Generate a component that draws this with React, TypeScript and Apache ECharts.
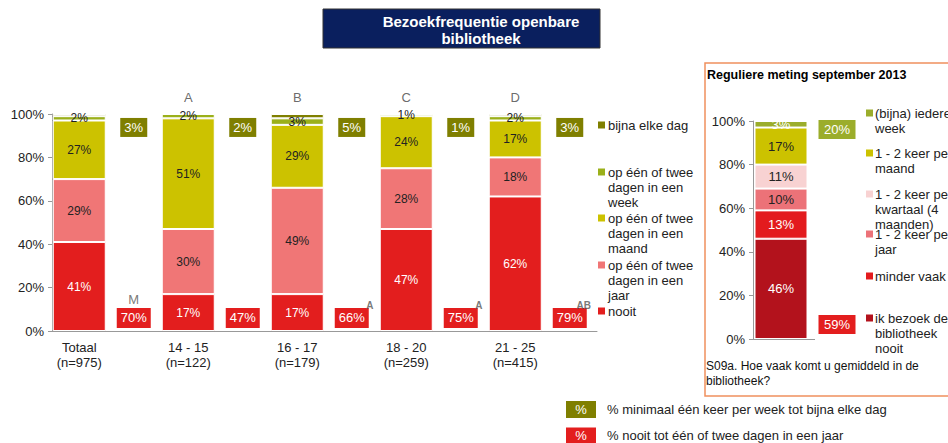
import React, { useEffect, useRef } from "react";
import * as echarts from "echarts";

// ---------- data ----------
const groups = ["Totaal\n(n=975)", "14 - 15\n(n=122)", "16 - 17\n(n=179)", "18 - 20\n(n=259)", "21 - 25\n(n=415)"];
const nooit = [41, 17, 17, 47, 62];
const jaar = [29, 30, 49, 28, 18];
const maand = [27, 51, 29, 24, 17];
const week = [2, 2, 3, 1, 2];
const dagelijks = [1, 0, 2, 0, 1];
const weeklyTotal = [3, 2, 5, 1, 3];
const neverTotal = [70, 47, 66, 75, 79];
const groupLetters = ["", "A", "B", "C", "D"];
const sigLetters = ["M", "", "A", "A", "AB"];
const leftLegend = [
  "bijna elke dag",
  "op één of twee\ndagen in een\nweek",
  "op één of twee\ndagen in een\nmaand",
  "op één of twee\ndagen in een\njaar",
  "nooit",
];
const yTicks = [0, 20, 40, 60, 80, 100];

const regNames = [
  "ik bezoek de\nbibliotheek\nnooit",
  "minder vaak",
  "1 - 2 keer per\njaar",
  "1 - 2 keer per\nkwartaal (4\nmaanden)",
  "1 - 2 keer per\nmaand",
  "(bijna) iedere\nweek",
];
const regValues = [46, 13, 10, 11, 17, 3];
const regWeekly = 20;
const regNever = 59;

const titleText = "Bezoekfrequentie openbare\nbibliotheek";
const panelTitle = "Reguliere meting september 2013";
const footnote = "S09a. Hoe vaak komt u gemiddeld in de\nbibliotheek?";
const bottomLegend = [
  "% minimaal één keer per week tot bijna elke dag",
  "% nooit tot één of twee dagen in een jaar",
];

// ---------- styles ----------
const FONT = "'Liberation Sans', Arial, sans-serif";
const leftColors = ["#E31E1E", "#F07676", "#CCC200", "#9BB01A", "#7F7F00"]; // nooit..dagelijks
const regColors = ["#B3121C", "#E31B1E", "#EC7278", "#F8D2D2", "#CCC200", "#9BAD2B"];
const regLabelColors = ["#fff", "#fff", "#222", "#222", "#222", "#fff"];
const olive = "#7F7F00";
const red = "#E31E1E";

function buildOption() {
  const slotLabels: string[] = [];
  groups.forEach((g) => {
    slotLabels.push(g);
    slotLabels.push("");
  });
  const toSlots = (arr: number[]) => {
    const out: any[] = [];
    arr.forEach((v) => {
      out.push(v);
      out.push("-");
    });
    return out;
  };
  const leftSeriesData = [nooit, jaar, maand, week, dagelijks];
  const leftNames = ["nooit", "jaar", "maand", "week", "bijna elke dag"];
  const leftLabelColors = ["#fff", "#222", "#222", "#222", "#222"];

  const series: any[] = [];
  leftSeriesData.forEach((arr, k) => {
    series.push({
      type: "bar",
      name: leftNames[k],
      stack: "left",
      xAxisIndex: 0,
      yAxisIndex: 0,
      barWidth: 53,
      data: toSlots(arr),
      itemStyle: { color: leftColors[k], borderColor: "#fff", borderWidth: 1 },
      label: {
        show: k < 4,
        position: "inside",
        fontFamily: FONT,
        fontSize: 12,
        color: leftLabelColors[k],
        formatter: (p: any) => (p.value > 0 ? p.value + "%" : ""),
      },
    });
  });

  // summary boxes
  series.push({
    type: "scatter",
    xAxisIndex: 0,
    yAxisIndex: 0,
    symbol: "rect",
    symbolSize: [27, 19],
    clip: false,
    itemStyle: { color: olive, opacity: 1 },
    data: weeklyTotal.map((v, i) => [2 * i + 1, 93.8, v]),
    label: { show: true, position: "inside", color: "#fff", fontFamily: FONT, fontSize: 13, formatter: (p: any) => p.value[2] + "%" },
  });
  series.push({
    type: "scatter",
    xAxisIndex: 0,
    yAxisIndex: 0,
    symbol: "rect",
    symbolSize: [34, 20],
    clip: false,
    itemStyle: { color: red, opacity: 1 },
    data: neverTotal.map((v, i) => [2 * i + 1, 6.0, v]),
    label: { show: true, position: "inside", color: "#fff", fontFamily: FONT, fontSize: 13, formatter: (p: any) => p.value[2] + "%" },
  });
  // group letters above bars
  series.push({
    type: "scatter",
    xAxisIndex: 0,
    yAxisIndex: 0,
    symbolSize: 1,
    clip: false,
    itemStyle: { color: "rgba(0,0,0,0)" },
    data: groupLetters.map((l, i) => [2 * i, 107.8, l]),
    label: { show: true, position: "inside", color: "#444", fontFamily: FONT, fontSize: 13, formatter: (p: any) => p.value[2] },
  });
  // significance letters
  series.push({
    type: "scatter",
    xAxisIndex: 0,
    yAxisIndex: 0,
    symbolSize: 1,
    clip: false,
    itemStyle: { color: "rgba(0,0,0,0)" },
    data: sigLetters.map((l, i) => {
      const isM = l === "M";
      return {
        value: [2 * i + 1, isM ? 14.3 : 11.6, l],
        label: isM
          ? { color: "#555", fontSize: 13 }
          : { color: "#555", fontSize: 10, fontWeight: "bold", offset: [l.length > 1 ? 14 : 18, 0] },
      };
    }),
    label: {
      show: true,
      position: "inside",
      fontFamily: FONT,
      formatter: (p: any) => p.value[2],
    },
  });

  // right chart
  regValues.forEach((v, k) => {
    series.push({
      type: "bar",
      name: regNames[k],
      stack: "reg",
      xAxisIndex: 1,
      yAxisIndex: 1,
      barWidth: 53,
      data: [v, "-"],
      itemStyle: { color: regColors[k], borderColor: "#fff", borderWidth: 1 },
      label: {
        show: true,
        position: "inside",
        fontFamily: FONT,
        fontSize: 13,
        color: regLabelColors[k],
        formatter: (p: any) => p.value + "%",
      },
    });
  });
  series.push({
    type: "scatter",
    xAxisIndex: 1,
    yAxisIndex: 1,
    symbol: "rect",
    symbolSize: [37, 19],
    clip: false,
    data: [
      { value: [1, 96.1, regWeekly], itemStyle: { color: "#9BAD2B", opacity: 1 } },
      { value: [1, 6.65, regNever], itemStyle: { color: red, opacity: 1 } },
    ],
    label: { show: true, position: "inside", color: "#fff", fontFamily: FONT, fontSize: 13, formatter: (p: any) => p.value[2] + "%" },
  });

  const graphic: any[] = [];
  // title box
  graphic.push({ type: "rect", shape: { x: 323, y: 9, width: 277, height: 39 }, style: { fill: "#0A1F5E", stroke: "#333", lineWidth: 1 } });
  graphic.push({
    type: "text",
    style: { x: 481, y: 13, text: titleText, font: `bold 15px ${FONT}`, fill: "#fff", textAlign: "center", lineHeight: 17 },
  });
  // left legend
  const legY = [125, 172, 218, 265, 311];
  const legColors = [leftColors[4], leftColors[3], leftColors[2], leftColors[1], leftColors[0]];
  leftLegend.forEach((name, i) => {
    graphic.push({ type: "rect", shape: { x: 598, y: legY[i] - 3.5, width: 7, height: 7 }, style: { fill: legColors[i] } });
    graphic.push({
      type: "text",
      style: { x: 608, y: legY[i] - 7.5, text: name, font: `13px ${FONT}`, fill: "#222", lineHeight: 15 },
    });
  });
  // right panel
  graphic.push({ type: "rect", shape: { x: 705, y: 63, width: 260, height: 333 }, style: { fill: "none", stroke: "#F0905E", lineWidth: 1.5 } });
  graphic.push({ type: "text", style: { x: 707, y: 68, text: panelTitle, font: `bold 12.5px ${FONT}`, fill: "#000" } });
  graphic.push({ type: "line", shape: { x1: 753, y1: 339.5, x2: 815, y2: 339.5 }, style: { stroke: "#999", lineWidth: 1 } });
  const regLegY = [318, 276, 234, 194, 153, 113];
  regNames.forEach((name, k) => {
    graphic.push({ type: "rect", shape: { x: 866, y: regLegY[k] - 3.5, width: 7, height: 7 }, style: { fill: regColors[k] } });
    graphic.push({
      type: "text",
      style: { x: 875, y: regLegY[k] - 7.5, text: name, font: `13px ${FONT}`, fill: "#222", lineHeight: 15 },
    });
  });
  graphic.push({ type: "text", style: { x: 706, y: 358, text: footnote, font: `12px ${FONT}`, fill: "#111", lineHeight: 15 } });
  // bottom legend
  const bColors = [olive, red];
  const bY = [409.5, 436];
  bottomLegend.forEach((t, i) => {
    graphic.push({ type: "rect", shape: { x: 566, y: bY[i] - 8.5, width: 30, height: 17 }, style: { fill: bColors[i] } });
    graphic.push({ type: "text", style: { x: 581, y: bY[i] - 7, text: "%", font: `13px ${FONT}`, fill: "#fff", textAlign: "center" } });
    graphic.push({ type: "text", style: { x: 607, y: bY[i] - 7, text: t, font: `13px ${FONT}`, fill: "#222" } });
  });

  const yAxisBase = (grid: number) => ({
    type: "value",
    gridIndex: grid,
    min: 0,
    max: 100,
    interval: 20,
    axisLine: { show: true, lineStyle: { color: "#999" } },
    axisTick: { show: true, length: 4, lineStyle: { color: "#999" } },
    splitLine: { show: false },
    axisLabel: {
      fontFamily: FONT,
      fontSize: 13,
      color: "#222",
      margin: 8,
      formatter: (v: number) => (yTicks.includes(v) ? v + "%" : ""),
    },
  });

  return {
    animation: false,
    backgroundColor: "#fff",
    grid: [
      { left: 52, top: 114, width: 545, height: 217 },
      { left: 753, top: 121, width: 112, height: 218 },
    ],
    xAxis: [
      {
        type: "category",
        gridIndex: 0,
        data: slotLabels,
        axisLine: { show: true, lineStyle: { color: "#999" } },
        axisTick: { show: false },
        axisLabel: { interval: 0, fontFamily: FONT, fontSize: 13, color: "#222", lineHeight: 15, margin: 9 },
      },
      {
        type: "category",
        gridIndex: 1,
        data: ["", ""],
        axisLine: { show: false },
        axisTick: { show: false },
        axisLabel: { show: false },
      },
    ],
    yAxis: [yAxisBase(0), yAxisBase(1)],
    series,
    graphic,
  };
}

export default function App() {
  const ref = useRef<HTMLDivElement>(null);
  useEffect(() => {
    const chart = echarts.init(ref.current!, null, { renderer: "svg" });
    chart.setOption(buildOption() as any);
    return () => chart.dispose();
  }, []);
  return (
    <div
      ref={ref}
      style={{ position: "fixed", left: 0, top: 0, width: 948, height: 443, background: "#fff" }}
    />
  );
}
